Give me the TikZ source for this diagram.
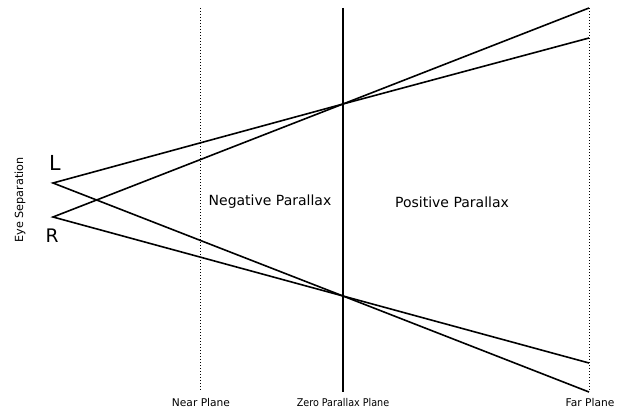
\documentclass[tikz,border=0pt]{standalone}
\usepackage{fontspec}
\setmainfont{DejaVu Sans}
\newfontfamily\condfont{DejaVu Sans Condensed}
\begin{document}
\begin{tikzpicture}[x=0.75pt,y=-0.75pt,
  ray/.style={line width=1.2pt},
  planeline/.style={line width=0.75pt,dash pattern=on 0.75pt off 1.5pt},
  zeroline/.style={line width=2.2pt},
  lbl/.style={font=\fontsize{8}{9}\selectfont, inner sep=0pt},
  region/.style={font=\fontsize{10.5}{12}\selectfont, inner sep=0pt}]
\useasboundingbox (0,0) rectangle (624,410);
% planes
\coordinate (nearT) at (200,8);
\coordinate (nearB) at (200,392);
\coordinate (zeroT) at (343,8);
\coordinate (zeroB) at (343,392);
\coordinate (farT) at (589,8);
\coordinate (farB) at (589,392);
\draw[planeline] (nearT) -- (nearB);
\draw[planeline] (farT) -- (farB);
\draw[zeroline] (zeroT) -- (zeroB);
% eyes and convergence points
\coordinate (eyeL) at (53,183);
\coordinate (eyeR) at (53,217);
\coordinate (cT) at (343,104);
\coordinate (cB) at (343,296);
\coordinate (fLT) at (589,38);
\coordinate (fRT) at (589,8);
\coordinate (fLB) at (589,392);
\coordinate (fRB) at (589,363);
\draw[ray,line join=miter] (fLT) -- (cT) -- (eyeL) -- (cB) -- (fLB);
\draw[ray,line join=miter] (fRT) -- (cT) -- (eyeR) -- (cB) -- (fRB);
% labels
\node[inner sep=0pt, font=\fontsize{15.5}{16}\selectfont] (Ltxt) at (55,163) {L};
\node[inner sep=0pt, font=\fontsize{14}{15}\selectfont] (Rtxt) at (52,236) {R};
\node[inner sep=0pt, rotate=90, font=\fontsize{8.4}{9}\selectfont] (eyesep) at (20,200) {Eye Separation};
\node[lbl] (nearlbl) at (201,403) {Near Plane};
\node[lbl, font=\condfont\fontsize{8}{9}\selectfont] (zerolbl) at (343,403) {Zero Parallax Plane};
\node[lbl] (farlbl) at (590,403) {Far Plane};
\node[region] (neg) at (270,202) {Negative Parallax};
\node[region] (pos) at (452,202) {Positive Parallax};
\end{tikzpicture}
\end{document}
